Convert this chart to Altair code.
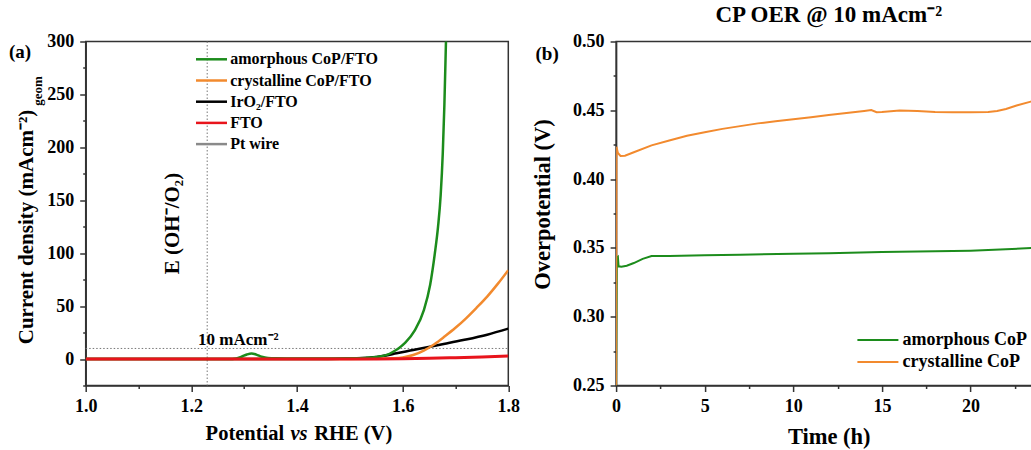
import altair as alt
import pandas as pd

# ---------------- data: panel (a) LSV curves ----------------
series_a = ["amorphous CoP/FTO", "crystalline CoP/FTO", "IrO₂/FTO", "FTO", "Pt wire"]
colors_a = ["#1c8c1c", "#f28a2e", "#000000", "#e8141c", "#8a8a8a"]

pot_amorph = [1.00, 1.10, 1.20, 1.27, 1.285, 1.295, 1.305, 1.314, 1.323, 1.333, 1.345, 1.36,
              1.40, 1.45, 1.50, 1.53, 1.55, 1.57, 1.582, 1.592, 1.605, 1.623, 1.64, 1.652,
              1.661, 1.667, 1.672, 1.676, 1.679, 1.682, 1.685]
j_amorph = [0, 0, 0, 0.1, 0.6, 2.2, 4.3, 5.3, 4.2, 2.2, 1.0, 0.7,
            0.5, 0.5, 0.7, 1.1, 1.9, 3.9, 6.9, 10, 15.5, 27, 46, 70,
            100, 125, 155, 195, 240, 300, 360]

pot_cryst = [1.0, 1.2, 1.4, 1.5, 1.55, 1.58, 1.60, 1.62, 1.64, 1.66, 1.68, 1.70, 1.72, 1.74,
             1.76, 1.78, 1.80]
j_cryst = [0, 0, 0, 0.1, 0.3, 0.7, 1.5, 3.8, 8, 14, 21.5, 29.5, 38.5, 48.5, 59, 71, 84]

pot_iro2 = [1.0, 1.2, 1.4, 1.45, 1.5, 1.544, 1.5885, 1.62, 1.6516, 1.68, 1.7146, 1.76, 1.80]
j_iro2 = [0, 0, 0, 0.1, 0.4, 1.6, 5.4, 8.6, 11.6, 14.4, 17.9, 23, 28.7]

pot_fto = [1.0, 1.4, 1.5, 1.55, 1.6, 1.65, 1.7, 1.75, 1.8]
j_fto = [0, 0, 0.05, 0.15, 0.35, 0.7, 1.3, 2.0, 2.8]

e_rev = [1.23]        # E(OH-/O2) reference potential
j_ref = [10]          # 10 mA cm-2 reference current

# ---------------- data: panel (b) chronopotentiometry ----------------
series_b = ["amorphous CoP", "crystalline CoP"]
colors_b = ["#1c8c1c", "#f28a2e"]

t_amor = [0, 0.04, 0.1, 0.14, 0.3, 0.6, 1, 1.5, 2, 3, 5, 7, 10, 12, 15, 17, 20, 22, 24]
v_amor = [0.25, 0.343, 0.3436, 0.3366, 0.3363, 0.337, 0.339, 0.342, 0.3441, 0.3442, 0.3446,
          0.345, 0.3458, 0.3462, 0.347, 0.3473, 0.348, 0.349, 0.3502]

t_cryst = [0, 0.02, 0.1, 0.25, 0.5, 1, 2, 3, 4, 5, 6, 7, 8, 9, 10, 11, 12, 13, 14, 14.4, 14.7,
           15, 16, 17, 18, 19, 20, 21, 21.5, 22, 22.6, 23.4, 24]
v_cryst = [0.25, 0.4235, 0.419, 0.4168, 0.417, 0.4195, 0.4245, 0.428, 0.4315, 0.434, 0.4365,
           0.4385, 0.4405, 0.442, 0.4435, 0.445, 0.4465, 0.448, 0.4495, 0.4502, 0.4486,
           0.4488, 0.4498, 0.4495, 0.4487, 0.4485, 0.4485, 0.4488, 0.4495, 0.451, 0.4535,
           0.4563, 0.4575]

x_ticks_a = [1.0, 1.1, 1.2, 1.3, 1.4, 1.5, 1.6, 1.7, 1.8]
y_ticks_a = [-25, 0, 25, 50, 75, 100, 125, 150, 175, 200, 225, 250, 275, 300]
x_ticks_b = [0, 2.5, 5, 7.5, 10, 12.5, 15, 17.5, 20, 22.5]
y_ticks_b = [0.25, 0.275, 0.30, 0.325, 0.35, 0.375, 0.40, 0.425, 0.45, 0.475, 0.50]

FONT = "Liberation Serif"
W1, W2, H = 422.6, 425.3, 344


def tick_size(test):
    return {"condition": {"test": test, "value": 6}, "value": 3}


# ================= panel (a) =================
major_xa = "abs(datum.value*5 - round(datum.value*5)) < 0.001"
major_ya = "abs(datum.value/50 - round(datum.value/50)) < 0.001"
xa = alt.X("E:Q", scale=alt.Scale(domain=[1.0, 1.8], nice=False, zero=False),
           axis=alt.Axis(title=None, values=x_ticks_a, tickSize=tick_size(major_xa),
                         format=".1f",
                         labelExpr=f"{major_xa} ? datum.label : ''"))
ya = alt.Y("j:Q", scale=alt.Scale(domain=[-25, 300], nice=False, zero=False),
           axis=alt.Axis(title="Current density (mAcm⁻²)", values=y_ticks_a,
                         tickSize=tick_size(major_ya), format="d",
                         labelExpr=f"{major_ya} ? datum.label : ''",
                         titleX=-58.7, titleY=185, titleAngle=270,
                         titleAlign="center", titleBaseline="middle"))
color_a = alt.Color("series:N", scale=alt.Scale(domain=series_a, range=colors_a), legend=None)

curves_a = [
    ("IrO₂/FTO", pot_iro2, j_iro2, 2.5),
    ("crystalline CoP/FTO", pot_cryst, j_cryst, 2.5),
    ("amorphous CoP/FTO", pot_amorph, j_amorph, 2.5),
    ("FTO", pot_fto, j_fto, 3),
]
layers_a = []
vline = alt.Chart(pd.DataFrame({"E": e_rev})).mark_rule(
    color="#777", strokeDash=[1.5, 2], strokeWidth=1).encode(
    x=xa, y=alt.value(0), y2=alt.value(H))
hline = alt.Chart(pd.DataFrame({"j": j_ref})).mark_rule(
    color="#777", strokeDash=[1.5, 2], strokeWidth=1).encode(
    y=ya, x=alt.value(0), x2=alt.value(W1))
layers_a += [vline, hline]
for name, xs, ys, sw in curves_a:
    df = pd.DataFrame({"E": xs, "j": ys, "series": name})
    layers_a.append(alt.Chart(df).mark_line(strokeWidth=sw, clip=True, interpolate="monotone")
                    .encode(x=xa, y=ya, color=color_a))

ann_10 = alt.Chart(pd.DataFrame({"E": [1.289], "j": [17.9], "t": ["10 mAcm⁻²"]})).mark_text(
    font=FONT, fontWeight="bold", fontSize=17, align="center", baseline="middle", color="black"
).encode(x=xa, y=ya, text="t:N")
ann_e = alt.Chart(pd.DataFrame({"E": [1.165], "j": [128], "t": ["E (OH⁻/O₂)"]})).mark_text(
    font=FONT, fontWeight="bold", fontSize=21, align="center", baseline="middle", angle=270,
    color="black").encode(x=xa, y=ya, text="t:N")
lab_a = alt.Chart(pd.DataFrame({"t": ["(a)"]})).mark_text(
    font=FONT, fontWeight="bold", fontSize=19, align="center", baseline="middle", color="black"
).encode(x=alt.value(-65.7), y=alt.value(10.5), text="t:N")
geom = alt.Chart(pd.DataFrame({"t": ["geom"]})).mark_text(
    font=FONT, fontWeight="bold", fontSize=13, align="center", baseline="middle", angle=270,
    color="black").encode(x=alt.value(-47.5), y=alt.value(49.5), text="t:N")
xt1 = alt.Chart(pd.DataFrame({"t": ["Potential"]})).mark_text(
    font=FONT, fontWeight="bold", fontSize=20.5, align="right", baseline="middle", color="black"
).encode(x=alt.value(198.5), y=alt.value(392.5), text="t:N")
xt2 = alt.Chart(pd.DataFrame({"t": ["vs"]})).mark_text(
    font=FONT, fontWeight="bold", fontStyle="italic", fontSize=20.5, align="center",
    baseline="middle", color="black").encode(x=alt.value(213.3), y=alt.value(392.5), text="t:N")
xt3 = alt.Chart(pd.DataFrame({"t": ["RHE (V)"]})).mark_text(
    font=FONT, fontWeight="bold", fontSize=20.5, align="left", baseline="middle", color="black"
).encode(x=alt.value(228.5), y=alt.value(392.5), text="t:N")

leg_a_df = pd.DataFrame({"series": series_a, "idx": list(range(len(series_a)))})
leg_a_base = alt.Chart(leg_a_df).transform_calculate(ly="17.8 + datum.idx * 21.2")
leg_a_sym = leg_a_base.mark_rule(strokeWidth=2.5).encode(
    x=alt.value(110.3), x2=alt.value(141.3), y=alt.Y("ly:Q", scale=None), color=color_a)
leg_a_txt = leg_a_base.mark_text(
    font=FONT, fontWeight="bold", fontSize=16, align="left", baseline="middle", color="black"
).encode(x=alt.value(144.5), y=alt.Y("ly:Q", scale=None), text="series:N")

panel_a = alt.layer(*layers_a, ann_10, ann_e, lab_a, geom, xt1, xt2, xt3,
                    leg_a_sym, leg_a_txt).properties(width=W1, height=H)

# ================= panel (b) =================
major_xb = "abs(datum.value/5 - round(datum.value/5)) < 0.001"
major_yb = "abs(datum.value*20 - round(datum.value*20)) < 0.001"
xb = alt.X("t:Q", scale=alt.Scale(domain=[0, 24], nice=False, zero=False),
           axis=alt.Axis(title="Time (h)", values=x_ticks_b, tickSize=tick_size(major_xb),
                         format="d", labelExpr=f"{major_xb} ? datum.label : ''",
                         titleY=51, titleBaseline="middle", titleFontSize=22.5))
yb = alt.Y("v:Q", scale=alt.Scale(domain=[0.25, 0.50], nice=False, zero=False),
           axis=alt.Axis(title="Overpotential (V)", values=y_ticks_b, tickSize=tick_size(major_yb),
                         format=".2f", labelExpr=f"{major_yb} ? datum.label : ''",
                         titleX=-74, titleY=162.5, titleAngle=270, titleFontSize=22.5,
                         titleAlign="center", titleBaseline="middle"))
color_b = alt.Color("series:N", scale=alt.Scale(domain=series_b, range=colors_b), legend=None)

layers_b = []
for name, xs, ys in [("amorphous CoP", t_amor, v_amor), ("crystalline CoP", t_cryst, v_cryst)]:
    df = pd.DataFrame({"t": xs, "v": ys, "series": name})
    layers_b.append(alt.Chart(df).mark_line(strokeWidth=2, clip=True)
                    .encode(x=xb, y=yb, color=color_b))

lab_b = alt.Chart(pd.DataFrame({"t": ["(b)"]})).mark_text(
    font=FONT, fontWeight="bold", fontSize=19, align="center", baseline="middle", color="black"
).encode(x=alt.value(-69), y=alt.value(12.5), text="t:N")

leg_b_df = pd.DataFrame({"series": series_b, "idx": list(range(len(series_b)))})
leg_b_base = alt.Chart(leg_b_df).transform_calculate(ly="298.5 + datum.idx * 22")
leg_b_sym = leg_b_base.mark_rule(strokeWidth=2).encode(
    x=alt.value(241.3), x2=alt.value(282.3), y=alt.Y("ly:Q", scale=None), color=color_b)
leg_b_txt = leg_b_base.mark_text(
    font=FONT, fontWeight="bold", fontSize=18, align="left", baseline="middle", color="black"
).encode(x=alt.value(286.3), y=alt.Y("ly:Q", scale=None), text="series:N")

panel_b = alt.layer(*layers_b, lab_b, leg_b_sym, leg_b_txt).properties(
    width=W2, height=H,
    title=alt.TitleParams("CP OER @ 10 mAcm⁻²", font=FONT, fontSize=23, fontWeight="bold",
                          color="black", offset=6, anchor="middle"))

chart = alt.hconcat(panel_a, panel_b, spacing=107.4, bounds="flush").properties(
    autosize=alt.AutoSizeParams(type="none"),
    padding={"left": 85.7, "top": 41.5, "right": 1031 - 85.7, "bottom": 450 - 41.5},
    background="white",
).configure_view(
    stroke="#333", strokeWidth=1.5
).configure_axis(
    labelFont=FONT, labelFontSize=18, labelFontWeight="bold", labelColor="black",
    labelPadding=6, labelFlush=False, labelOverlap=False,
    domainColor="#333", domainWidth=1.5, tickColor="#333", tickWidth=1.5,
    titleFont=FONT, titleFontSize=21, titleFontWeight="bold", titleColor="black", grid=False,
)

chart.save("out.html", embed_options={"renderer": "svg", "actions": False})
